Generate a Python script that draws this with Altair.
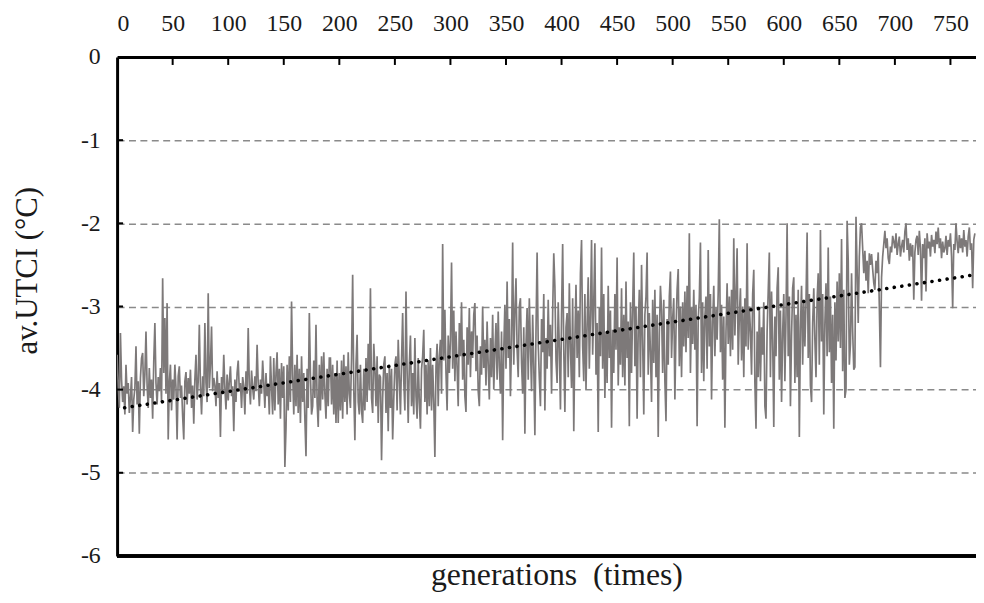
import altair as alt
import pandas as pd

utci = [
 -3.58, -3.95, -4.22, -3.32, -3.88, -4.15, -3.96, -4.30, -3.70, -4.05, -3.92, -4.28, -4.10, -3.85, -4.51, -4.12, -3.98, -3.48, -4.18, -3.90,
 -4.53, -3.86, -3.62, -3.56, -4.08, -3.82, -3.30, -3.95, -4.22, -3.74, -4.10, -3.88, -4.35, -3.66, -3.20, -3.92, -4.18, -3.85, -4.02, -3.74,
 -4.15, -2.66, -3.80, -3.14, -4.05, -2.96, -4.60, -3.92, -3.70, -4.25, -3.88, -4.12, -3.70, -3.98, -4.60, -3.84, -3.72, -4.10, -3.95, -4.32,
 -4.60, -3.90, -3.79, -4.18, -3.86, -4.05, -3.76, -4.22, -3.95, -4.41, -3.88, -3.58, -4.12, -3.90, -3.22, -3.96, -4.30, -3.84, -4.08, -3.20,
 -3.92, -4.15, -2.84, -3.98, -3.70, -3.24, -4.02, -3.86, -3.95, -4.20, -3.78, -4.10, -3.92, -4.57, -3.85, -4.05, -3.58, -3.98, -4.24, -3.82,
 -4.13, -3.90, -3.72, -4.08, -3.96, -4.50, -3.88, -4.15, -3.80, -3.65, -4.02, -3.92, -4.22, -3.85, -3.96, -4.30, -3.78, -4.05, -3.26, -3.94,
 -4.18, -3.77, -3.98, -4.12, -3.84, -4.02, -3.46, -3.92, -4.20, -3.88, -4.05, -3.65, -3.92, -4.22, -3.80, -4.08, -3.94, -4.30, -3.60, -3.98,
 -4.30, -3.62, -4.25, -3.80, -3.55, -4.18, -3.75, -4.35, -3.68, -4.10, -3.72, -4.93, -4.47, -3.70, -4.25, -3.60, -4.15, -2.94, -3.82, -4.30,
 -3.70, -4.20, -3.58, -4.28, -3.75, -4.40, -3.60, -4.15, -3.80, -4.35, -4.80, -3.75, -4.22, -3.08, -3.82, -4.30, -4.20, -3.65, -4.10, -3.22,
 -4.15, -4.45, -3.70, -4.25, -3.60, -4.12, -3.55, -4.05, -4.35, -3.75, -4.20, -3.62, -3.62, -4.18, -3.70, -4.30, -3.80, -4.40, -3.65, -4.40,
 -3.80, -4.25, -3.65, -4.35, -3.58, -4.15, -3.72, -4.30, -3.55, -4.05, -4.22, -3.62, -2.62, -4.00, -4.61, -3.70, -3.34, -4.15, -4.30, -3.70,
 -4.25, -4.40, -3.75, -4.25, -3.62, -4.15, -3.45, -4.00, -2.78, -4.10, -4.28, -3.45, -3.75, -4.20, -3.60, -4.40, -3.82, -3.85, -4.85, -4.10,
 -3.70, -3.60, -4.28, -3.80, -4.50, -3.70, -4.22, -3.75, -4.60, -4.12, -3.70, -3.60, -4.25, -3.40, -3.85, -4.30, -3.65, -3.08, -3.90, -4.25,
 -2.82, -3.78, -4.40, -3.70, -3.35, -4.20, -3.80, -4.30, -3.38, -4.08, -4.35, -3.62, -4.15, -4.47, -3.75, -3.60, -3.28, -4.15, -3.70, -4.30,
 -3.65, -4.20, -3.50, -4.25, -3.70, -4.15, -4.81, -3.72, -3.45, -4.20, -3.60, -3.40, -4.05, -2.25, -3.65, -3.04, -3.80, -4.25, -3.35, -3.80,
 -3.40, -2.47, -3.75, -3.05, -3.90, -3.30, -3.74, -4.20, -3.20, -3.60, -2.95, -3.88, -3.40, -4.08, -4.27, -3.25, -3.70, -3.02, -3.85, -3.30,
 -3.62, -3.10, -2.96, -3.78, -3.35, -4.02, -4.20, -3.48, -3.82, -3.00, -3.74, -3.40, -3.95, -3.18, -3.70, -4.12, -3.38, -3.85, -3.10, -4.00,
 -3.55, -3.20, -3.88, -3.06, -3.72, -4.05, -3.30, -4.61, -3.52, -2.98, -3.75, -2.70, -3.62, -3.15, -4.08, -3.40, -2.23, -3.70, -3.05, -2.66,
 -3.52, -3.85, -3.00, -2.90, -3.68, -4.05, -3.25, -4.53, -3.45, -3.02, -3.88, -2.90, -3.50, -4.02, -3.10, -3.72, -4.55, -3.30, -2.35, -3.45,
 -3.86, -4.20, -3.15, -3.55, -2.85, -4.25, -3.38, -3.75, -2.92, -3.60, -3.22, -4.05, -3.08, -2.36, -2.76, -3.65, -3.92, -2.95, -3.50, -4.24,
 -3.10, -2.25, -3.52, -4.27, -3.25, -3.08, -3.85, -2.72, -3.50, -3.98, -2.90, -4.50, -3.40, -2.74, -3.62, -3.05, -3.85, -2.60, -2.20, -3.48,
 -3.90, -2.85, -4.00, -3.22, -2.65, -3.75, -3.10, -2.20, -3.58, -2.95, -2.24, -3.82, -3.20, -4.51, -3.02, -3.60, -2.29, -3.75, -2.85, -4.10,
 -3.30, -3.92, -2.75, -3.62, -3.05, -4.46, -3.28, -3.80, -2.85, -3.52, -2.41, -3.95, -3.25, -3.70, -2.78, -3.85, -3.10, -3.95, -2.70, -3.62,
 -3.18, -4.44, -2.95, -3.80, -3.02, -2.35, -3.72, -3.00, -4.35, -3.28, -2.80, -3.85, -2.50, -3.42, -4.30, -3.10, -2.88, -2.35, -3.82, -3.08,
 -3.55, -4.15, -2.92, -3.68, -2.80, -3.85, -3.10, -4.57, -3.32, -2.75, -3.05, -3.80, -2.92, -3.90, -4.38, -3.15, -3.70, -2.88, -2.58, -3.62,
 -3.15, -2.90, -4.12, -3.28, -2.80, -2.55, -3.72, -3.00, -3.85, -2.95, -3.48, -2.82, -3.55, -2.75, -3.38, -2.12, -3.80, -3.02, -3.45, -2.80,
 -3.52, -2.98, -4.44, -3.15, -2.90, -2.23, -3.80, -2.95, -3.90, -3.12, -2.88, -3.75, -2.32, -3.48, -2.85, -4.12, -3.20, -2.75, -3.60, -3.02,
 -3.40, -2.82, -1.95, -3.55, -2.98, -3.88, -3.12, -4.46, -3.30, -2.72, -3.45, -2.88, -3.60, -2.80, -3.52, -2.18, -3.35, -2.85, -2.30, -3.70,
 -3.12, -2.78, -3.65, -3.00, -3.85, -2.90, -3.48, -2.24, -3.52, -3.00, -3.30, -3.82, -2.85, -2.56, -3.92, -4.47, -3.30, -3.85, -3.02, -3.90,
 -3.25, -3.58, -2.95, -4.20, -4.35, -3.30, -2.82, -2.35, -3.85, -2.82, -3.40, -4.45, -3.12, -3.60, -2.78, -2.53, -3.88, -3.05, -4.15, -3.32,
 -2.85, -3.90, -3.12, -2.00, -3.60, -2.88, -4.20, -3.35, -2.78, -2.65, -3.92, -3.10, -3.85, -2.80, -4.57, -3.25, -2.75, -3.70, -2.92, -3.48,
 -2.95, -2.11, -3.62, -2.85, -3.95, -4.15, -3.20, -2.78, -3.40, -3.85, -2.92, -2.60, -3.70, -2.08, -3.42, -2.85, -4.30, -3.20, -2.72, -3.60,
 -2.29, -3.55, -2.88, -3.92, -3.10, -4.47, -2.95, -3.65, -2.70, -3.42, -2.60, -3.50, -2.19, -3.78, -2.80, -4.10, -4.00, -1.97, -2.45, -3.70,
 -3.45, -2.60, -3.30, -3.76, -3.73, -1.92, -2.55, -3.20, -2.40, -2.05, -2.00, -2.30, -2.60, -2.33, -2.69, -2.45, -2.84, -2.36, -2.50, -2.37,
 -2.55, -2.72, -2.80, -2.45, -2.60, -2.35, -3.00, -3.73, -2.65, -2.40, -2.25, -2.09, -2.30, -2.18, -2.42, -2.49, -2.28, -2.35, -2.15, -2.22,
 -2.30, -2.12, -2.38, -2.25, -2.16, -2.40, -2.28, -2.20, -2.35, -2.10, -2.00, -2.32, -2.18, -2.45, -2.24, -2.40, -2.26, -2.92, -2.35, -2.20,
 -2.15, -2.38, -2.09, -2.30, -2.93, -2.25, -2.42, -2.18, -2.82, -2.12, -2.30, -2.22, -2.40, -2.14, -2.28, -2.20, -2.36, -2.10, -2.25, -2.05,
 -2.30, -2.18, -2.42, -2.22, -2.35, -2.30, -2.15, -2.38, -2.20, -2.28, -2.12, -2.40, -3.02, -2.25, -2.32, -2.00, -2.22, -2.36, -2.14, -2.30,
 -2.18, -2.35, -2.08, -2.28, -2.20, -2.40, -2.16, -2.05, -2.32, -2.24, -2.78, -2.20, -2.12,
]
generations = list(range(len(utci)))

x_ticks = [0, 50, 100, 150, 200, 250, 300, 350, 400, 450, 500, 550, 600, 650, 700, 750]
y_ticks = [0, -1, -2, -3, -4, -5, -6]

FONT = "Liberation Serif"
TXT = "#1a1a1a"

df = pd.DataFrame({"gen": generations, "utci": utci})
xt = pd.DataFrame({"gen": x_ticks[1:]})
yt = pd.DataFrame({"utci": y_ticks[1:-1]})

xscale = alt.Scale(domain=[0, 773], nice=False, zero=False)
yscale = alt.Scale(domain=[-6, 0], nice=False, zero=False)

x_axis = alt.Axis(
    orient="top", values=x_ticks, labelExpr="'' + datum.value", ticks=False, grid=False,
    domain=True, domainColor="black", domainWidth=3,
    labelFont=FONT, labelFontSize=24, labelColor=TXT, labelPadding=22,
    title="generations\u00a0\u00a0(times)", titleFont=FONT, titleFontSize=32,
    titleFontWeight="normal", titleColor=TXT,
    titleX=443, titleY=532, titleAlign="center", titleBaseline="alphabetic",
)
y_axis = alt.Axis(
    orient="left", values=y_ticks, labelExpr="'' + datum.value", ticks=False,
    grid=True, gridColor="#8a8a8a", gridDash=[7, 4.5], gridWidth=1.5,
    domain=True, domainColor="black", domainWidth=3,
    labelFont=FONT, labelFontSize=24, labelColor=TXT, labelPadding=17,
    title="av.UTCI (°C)", titleFont=FONT, titleFontSize=31,
    titleFontWeight="normal", titleColor=TXT,
    titleX=-90, titleY=215, titleAngle=270, titleAlign="center", titleBaseline="middle",
)

line = alt.Chart(df).mark_line(color="#7d7979", strokeWidth=1.7, clip=True).encode(
    x=alt.X("gen:Q", scale=xscale, axis=x_axis),
    y=alt.Y("utci:Q", scale=yscale, axis=y_axis),
)

trend = alt.Chart(df).transform_regression("gen", "utci").mark_line(
    color="black", strokeWidth=3.6, strokeDash=[0.1, 7.6], strokeCap="round", clip=True
).encode(x="gen:Q", y="utci:Q")

top_ticks = alt.Chart(xt).mark_rule(color="black", strokeWidth=2).encode(
    x="gen:Q", y=alt.value(0), y2=alt.value(8)
)
left_ticks = alt.Chart(yt).mark_rule(color="black", strokeWidth=2).encode(
    y="utci:Q", x=alt.value(0), x2=alt.value(6)
)
bottom = alt.Chart(yt).mark_rule(color="black", strokeWidth=3).encode(
    y=alt.datum(-6), x=alt.value(0), x2=alt.value(866)
)

chart = alt.layer(line, trend, top_ticks, left_ticks, bottom).properties(
    width=866, height=503,
    autosize=alt.AutoSizeParams(type="none"),
    padding={"left": 110, "top": 47, "right": 0, "bottom": 37},
).configure_view(stroke=None).configure(background="white")

chart.save("out.html", embed_options={"renderer": "svg", "actions": False})
